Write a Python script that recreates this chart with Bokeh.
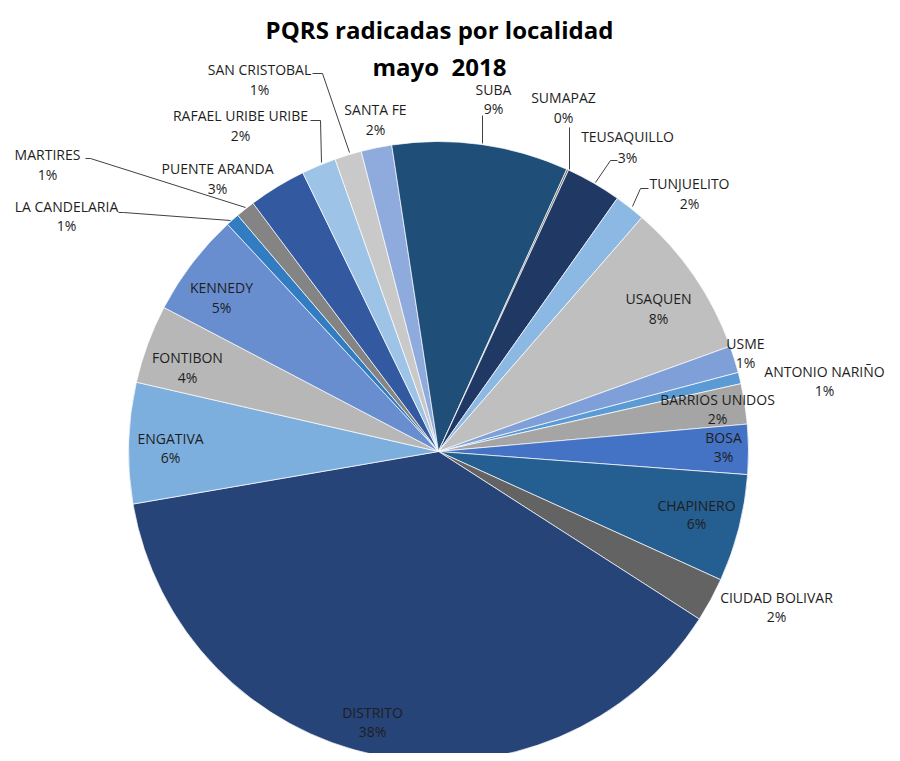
import math
from bokeh.plotting import figure
from bokeh.models import Range1d, ColumnDataSource
from bokeh.core.properties import value
from bokeh.embed import file_html
from bokeh.resources import INLINE

# ---------------- data ----------------
localidades = ["ANTONIO NARIÑO", "BARRIOS UNIDOS", "BOSA", "CHAPINERO", "CIUDAD BOLIVAR",
               "DISTRITO", "ENGATIVA", "FONTIBON", "KENNEDY", "LA CANDELARIA", "MARTIRES",
               "PUENTE ARANDA", "RAFAEL URIBE URIBE", "SAN CRISTOBAL", "SANTA FE", "SUBA",
               "SUMAPAZ", "TEUSAQUILLO", "TUNJUELITO", "USAQUEN", "USME"]
valores = [6, 21, 26, 56, 23, 382, 63, 41, 54, 7, 10, 30, 18, 14, 16, 92, 1, 29, 16, 81, 14]
titulo = ["PQRS radicadas por localidad", "mayo \u00a02018"]

# ---------------- styles / layout ----------------
colores = ["#5B9BD5", "#A5A5A5", "#4472C4", "#255E91", "#636363", "#264478", "#7CAFDD",
           "#B7B7B7", "#698ED0", "#327DC2", "#848484", "#335AA1", "#9DC3E6", "#C9C9C9",
           "#8FAADC", "#1F4E79", "#6F6F6F", "#203864", "#8CB8E4", "#BFBFBF", "#7F9FD8"]

H = 761  # reference pixel height, used to convert page y to data y
CX, CY, R = 438, 451, 310
START_DEG = 75.2  # clockwise from 12 o'clock where first slice starts

# label placement (page pixel coords: x, y of name line, y of percent line)
label_pos = {
    "ANTONIO NARIÑO": (824, 371, 390), "BARRIOS UNIDOS": (717, 399, 418),
    "BOSA": (723, 437, 456), "CHAPINERO": (696, 505, 523),
    "CIUDAD BOLIVAR": (776, 597, 616), "DISTRITO": (372, 712, 731),
    "ENGATIVA": (170, 438, 457), "FONTIBON": (187, 357, 377),
    "KENNEDY": (221, 287, 307), "LA CANDELARIA": (66, 206, 225),
    "MARTIRES": (47, 154, 174), "PUENTE ARANDA": (217, 168, 188),
    "RAFAEL URIBE URIBE": (240, 115, 135), "SAN CRISTOBAL": (259, 69, 89),
    "SANTA FE": (375, 109, 129), "SUBA": (493, 89, 108),
    "SUMAPAZ": (563, 97, 117), "TEUSAQUILLO": (627, 136, 157),
    "TUNJUELITO": (689, 183, 203), "USAQUEN": (658, 298, 318),
    "USME": (745, 343, 362),
}
leaders = [
    [(312, 73), (322, 73), (349, 152)],     # SAN CRISTOBAL
    [(310, 120), (320, 120), (321, 162)],   # RAFAEL URIBE URIBE
    [(85, 158), (90, 158), (245, 207)],     # MARTIRES
    [(118, 212), (123, 212), (230, 220)],   # LA CANDELARIA
    [(482, 115), (482, 143)],               # SUBA
    [(569, 127), (569, 169)],               # SUMAPAZ
    [(617, 160), (610, 160), (595, 182)],   # TEUSAQUILLO
    [(648, 188), (640, 188), (632, 206)],   # TUNJUELITO
]

# ---------------- computation ----------------
total = sum(valores)
starts, ends = [], []
cum = 0
for v in valores:
    t0 = START_DEG + cum / total * 360.0
    cum += v
    t1 = START_DEG + cum / total * 360.0
    starts.append(math.radians(90 - t0))
    ends.append(math.radians(90 - t1))

pcts = [f"{int(v / total * 100 + 0.5)}%" for v in valores]

src = ColumnDataSource(dict(start=starts, end=ends, color=colores, name=localidades))

p = figure(width=892, height=753, x_range=Range1d(0, 892), y_range=Range1d(H - 753, H),
           output_backend="svg", toolbar_location=None, min_border=0)
p.axis.visible = False
p.grid.visible = False
p.outline_line_color = None
p.background_fill_color = "white"
p.border_fill_color = "white"

p.wedge(x=CX, y=H - CY, radius=R, start_angle="start", end_angle="end", direction="clock",
        fill_color="color", line_color="white", line_width=0.7, source=src)

# leader lines
p.multi_line(xs=[[pt[0] for pt in l] for l in leaders],
             ys=[[H - pt[1] for pt in l] for l in leaders],
             line_color="#404040", line_width=1)

lx, ly1, ly2 = [], [], []
for n in localidades:
    x, y1, y2 = label_pos[n]
    lx.append(x); ly1.append(H - y1); ly2.append(H - y2)

lab = ColumnDataSource(dict(x=lx, y1=ly1, y2=ly2, name=localidades, pct=pcts))
for ycol, tcol in (("y1", "name"), ("y2", "pct")):
    p.text(x="x", y=ycol, text=tcol, source=lab, text_align="center", text_baseline="middle",
           text_font=value("Open Sans"), text_font_size="14px", text_color="#1E1E1E")

p.text(x=[439, 439], y=[H - 29, H - 66], text=titulo, text_align="center",
       text_baseline="alphabetic", text_font=value("Open Sans"), text_font_size="24px",
       text_font_style="bold", text_color="#000000")

open("out.html", "w").write(file_html(p, INLINE))
